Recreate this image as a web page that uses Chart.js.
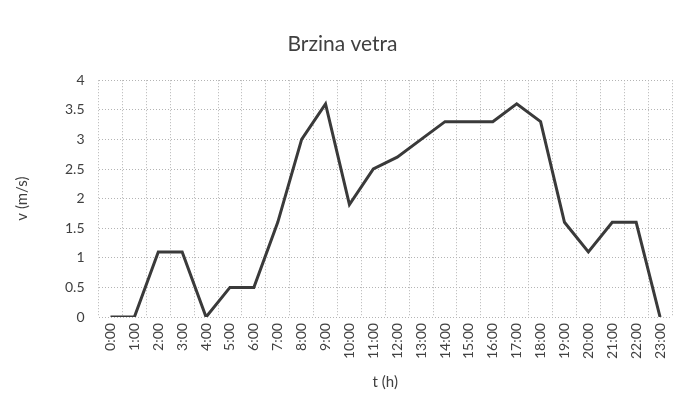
<!DOCTYPE html>
<html>
<head>
<meta charset="utf-8">
<script src="https://cdn.jsdelivr.net/npm/chart.js@4/dist/chart.umd.min.js"></script>
<style>
  html, body { margin: 0; padding: 0; background: #fff; }
  #wrap { width: 683px; height: 414px; }
</style>
</head>
<body>
<div id="wrap"><canvas id="chartLine"></canvas></div>
<script>
// hours and wind speed (m/s)
const hours = ["0:00","1:00","2:00","3:00","4:00","5:00","6:00","7:00","8:00","9:00","10:00","11:00",
  "12:00","13:00","14:00","15:00","16:00","17:00","18:00","19:00","20:00","21:00","22:00","23:00"];
const speed = [0, 0, 1.1, 1.1, 0, 0.5, 0.5, 1.6, 3.0, 3.6, 1.9, 2.5,
  2.7, 3.0, 3.3, 3.3, 3.3, 3.6, 3.3, 1.6, 1.1, 1.6, 1.6, 0];
const yTicks = [0, 0.5, 1, 1.5, 2, 2.5, 3, 3.5, 4];

Chart.defaults.font.family = "Lato, 'Open Sans', sans-serif";
Chart.defaults.color = "#404040";

const gridStyle = {
  color: "#b4b4b4",
  lineWidth: 1,
  tickLength: 0,
  drawTicks: false
};

var chartLine = new Chart(document.getElementById("chartLine"), {
  type: "line",
  data: {
    labels: hours,
    datasets: [{
      label: "Brzina vetra",
      data: speed,
      borderColor: "#3a3a3a",
      backgroundColor: "#3a3a3a",
      borderWidth: 3,
      pointRadius: 0,
      tension: 0
    }]
  },
  options: {
    responsive: true,
    maintainAspectRatio: false,
    animation: false,
    layout: { padding: { left: 9, right: 7, top: 16, bottom: 19 } },
    plugins: {
      legend: { display: false },
      tooltip: { enabled: false },
      title: {
        display: true,
        text: "Brzina vetra",
        font: { size: 21, weight: "normal" },
        color: "#404040",
        padding: { top: 16, bottom: 23 }
      }
    },
    scales: {
      x: {
        offset: true,
        grid: Object.assign({ offset: true }, gridStyle),
        border: { display: false, dash: [1, 2] },
        ticks: { minRotation: 90, maxRotation: 90, padding: 6, font: { size: 14 } },
        title: { display: true, text: "t (h)", font: { size: 15 }, padding: { top: 8 } }
      },
      y: {
        min: 0,
        max: 4,
        afterBuildTicks: function(axis) {
          axis.ticks = yTicks.map(function(v) { return { value: v }; });
        },
        grid: gridStyle,
        border: { display: false, dash: [1, 2] },
        ticks: {
          padding: 14,
          font: { size: 14 },
          callback: function(v) { return String(v); }
        },
        title: { display: true, text: "v (m/s)", font: { size: 15 }, padding: { bottom: 20 } }
      }
    }
  }
});
</script>
</body>
</html>
